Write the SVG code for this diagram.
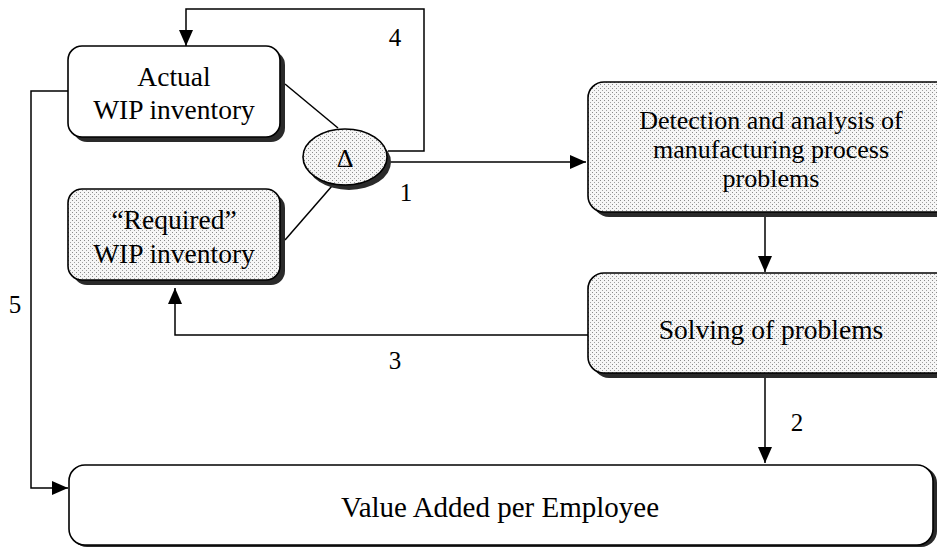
<svg xmlns="http://www.w3.org/2000/svg" width="937" height="549" viewBox="0 0 937 549">
<defs>
<pattern id="dots" width="4" height="4" patternUnits="userSpaceOnUse">
<rect width="4" height="4" fill="#f6f6f6"/>
<rect x="0" y="0" width="1" height="1" fill="#8a8a8a"/>
<rect x="2" y="2" width="1" height="1" fill="#a0a0a0"/>
</pattern>
<marker id="arr" markerUnits="userSpaceOnUse" markerWidth="18" markerHeight="14" refX="16" refY="7" orient="auto">
<path d="M0,0 L16,7 L0,14 z" fill="#000"/>
</marker>
</defs>
<style>
.shadow{fill:#2a2a2a}
.box{stroke:#000;stroke-width:1.6}
.white{fill:#fff}
.dot{fill:url(#dots)}
.t{font-family:"Liberation Serif","Times New Roman",serif;font-size:27.5px;fill:#000;text-anchor:middle}
.d{font-size:26px}
.n{font-family:"Liberation Serif","Times New Roman",serif;font-size:25px;fill:#000;text-anchor:middle}
.c{fill:none;stroke:#000;stroke-width:1.5}
</style>
<rect width="937" height="549" fill="#fff"/>
<g id="connectors">
<line class="c" x1="285" y1="84" x2="338" y2="128"/>
<line class="c" x1="285" y1="240" x2="332" y2="186"/>
<polyline class="c" points="388,151 424,151 424,9 186,9 186,46" marker-end="url(#arr)"/>
<line class="c" x1="391" y1="162" x2="586" y2="162" marker-end="url(#arr)"/>
<line class="c" x1="765" y1="215" x2="765" y2="272" marker-end="url(#arr)"/>
<polyline class="c" points="588,335 175,335 175,288" marker-end="url(#arr)"/>
<line class="c" x1="765" y1="378" x2="765" y2="463" marker-end="url(#arr)"/>
<polyline class="c" points="68,91 31,91 31,488 68,488" marker-end="url(#arr)"/>
<text class="n" x="395" y="46">4</text>
<text class="n" x="406" y="201">1</text>
<text class="n" x="395" y="369">3</text>
<text class="n" x="797" y="431">2</text>
<text class="n" x="15" y="313">5</text>
</g>
<g id="actual">
<rect class="shadow" x="73" y="51" width="212" height="91" rx="14"/>
<rect class="box white" x="68" y="46" width="212" height="91" rx="14"/>
<text class="t" x="174" y="86">Actual</text>
<text class="t" x="174" y="119">WIP inventory</text>
</g>
<g id="required">
<rect class="shadow" x="73" y="194" width="212" height="91" rx="14"/>
<rect class="box dot" x="68" y="189" width="212" height="91" rx="14"/>
<text class="t" x="174" y="229">“Required”</text>
<text class="t" x="174" y="263">WIP inventory</text>
</g>
<g id="delta">
<ellipse class="shadow" cx="349" cy="162" rx="42" ry="28"/>
<ellipse class="box dot" cx="345" cy="157" rx="42" ry="28"/>
<text class="n" x="345" y="167" style="font-size:26px">Δ</text>
</g>
<g id="detection">
<rect class="shadow" x="593" y="87" width="367" height="130" rx="16"/>
<rect class="box dot" x="588" y="82" width="367" height="130" rx="16"/>
<text class="t d" x="771" y="129">Detection and analysis of</text>
<text class="t d" x="771" y="158">manufacturing process</text>
<text class="t d" x="771" y="187">problems</text>
</g>
<g id="solving">
<rect class="shadow" x="593" y="278" width="367" height="100" rx="16"/>
<rect class="box dot" x="588" y="273" width="367" height="100" rx="16"/>
<text class="t" x="771" y="339">Solving of problems</text>
</g>
<g id="value">
<rect class="shadow" x="71" y="467" width="866" height="80" rx="16"/>
<rect class="box white" x="69" y="465" width="864" height="80" rx="16"/>
<text class="t" x="500" y="517" style="font-size:29px">Value Added per Employee</text>
</g>
</svg>
